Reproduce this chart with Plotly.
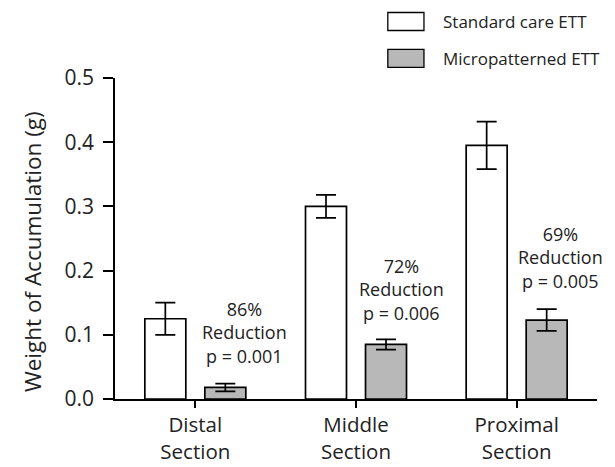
import plotly.graph_objects as go

categories = ["Distal<br>Section", "Middle<br>Section", "Proximal<br>Section"]
standard_vals = [0.125, 0.300, 0.395]
standard_err = [0.025, 0.018, 0.037]
micro_vals = [0.018, 0.085, 0.123]
micro_err = [0.006, 0.008, 0.017]
series_names = ["Standard care ETT", "Micropatterned ETT"]
reduction_text = ["86%<br>Reduction<br>p = 0.001", "72%<br>Reduction<br>p = 0.006", "69%<br>Reduction<br>p = 0.005"]
y_ticks = [0.0, 0.1, 0.2, 0.3, 0.4, 0.5]
y_title = "Weight of Accumulation (g)"

# annotation placement (layout only)
annot_dx = [0.305, 0.285, 0.27]
annot_y = [0.103, 0.170, 0.221]

FONT = "Open Sans, Lato, Arial, sans-serif"
GRAY = "#b8b8b8"
TXT = "#222222"

fig = go.Figure()
fig.add_trace(go.Bar(
    x=[0, 1, 2], y=standard_vals, name=series_names[0],
    marker=dict(color="white", line=dict(color="black", width=1.7)),
    error_y=dict(type="data", array=standard_err, visible=True, color="black", thickness=1.7, width=10),
    showlegend=False,
))
fig.add_trace(go.Bar(
    x=[0, 1, 2], y=micro_vals, name=series_names[1],
    marker=dict(color=GRAY, line=dict(color="black", width=1.7)),
    error_y=dict(type="data", array=micro_err, visible=True, color="black", thickness=1.7, width=10),
    showlegend=False,
))

for i, t in enumerate(reduction_text):
    fig.add_annotation(x=i + annot_dx[i], y=annot_y[i], xref="x", yref="y", text=t, showarrow=False,
                       font=dict(family=FONT, size=18, color=TXT), align="center", yanchor="middle")

# legend drawn manually
leg = [(series_names[0], "white", 1.176), (series_names[1], GRAY, 1.061)]
for name, col, yy in leg:
    fig.add_shape(type="rect", xref="paper", yref="paper", x0=0.566, x1=0.641, y0=yy - 0.028, y1=yy + 0.028,
                  fillcolor=col, line=dict(color="black", width=1.3))
    fig.add_annotation(xref="paper", yref="paper", x=0.677, y=yy, text=name, showarrow=False,
                       xanchor="left", yanchor="middle", font=dict(family=FONT, size=17, color=TXT))

# y-axis title
fig.add_annotation(xref="paper", yref="paper", x=-0.17, y=0.458, text=y_title, textangle=-90,
                   showarrow=False, xanchor="center", yanchor="middle",
                   font=dict(family=FONT, size=22.5, color=TXT))

fig.update_layout(
    width=607, height=459,
    margin=dict(l=107, r=18, t=70, b=68),
    plot_bgcolor="white", paper_bgcolor="white",
    barmode="group", bargap=0.253, bargroupgap=0.317,
    font=dict(family=FONT, color=TXT),
)
fig.update_xaxes(
    range=[-0.5, 2.5], tickvals=[0, 1, 2], ticktext=categories, automargin=False,
    showline=True, linecolor="black", linewidth=1.7,
    ticks="outside", ticklen=7, tickwidth=1.7, tickcolor="black",
    tickfont=dict(family=FONT, size=20.5, color=TXT), showgrid=False, zeroline=False,
)
fig.update_yaxes(
    range=[0, 0.5], tickvals=y_ticks, ticktext=[f"{v:.1f}" for v in y_ticks], automargin=False,
    showline=True, linecolor="black", linewidth=1.7,
    ticks="outside", ticklen=10, tickwidth=1.7, tickcolor="black", ticklabelstandoff=5,
    tickfont=dict(family=FONT, size=21, color=TXT), showgrid=False, zeroline=False,
)

fig.write_html("out.html")
